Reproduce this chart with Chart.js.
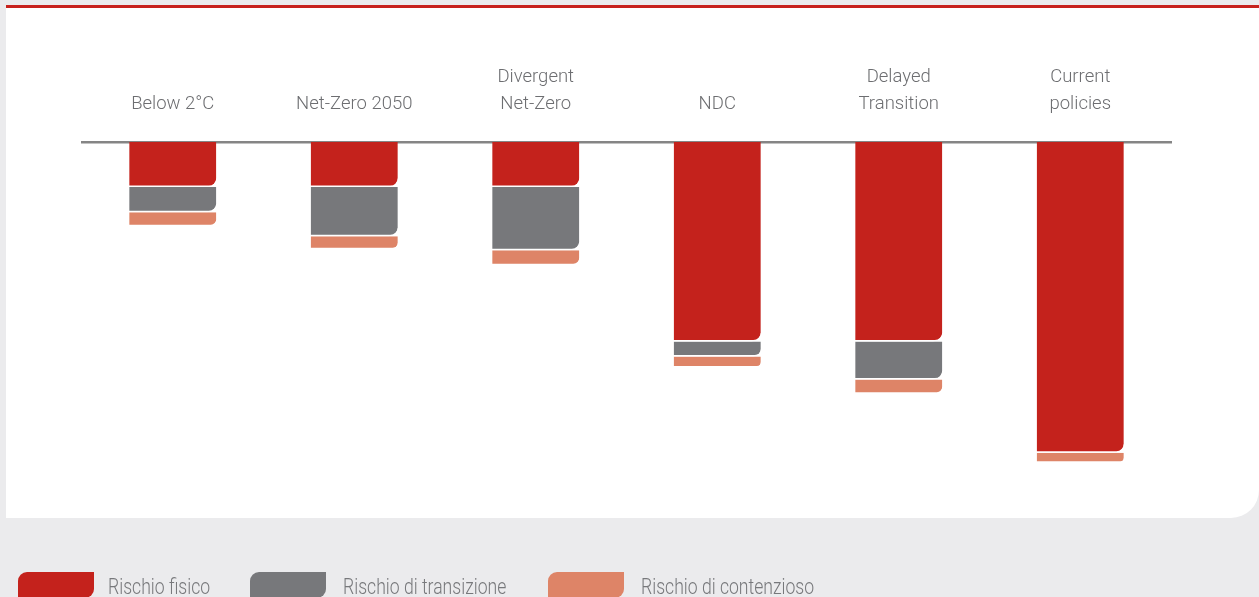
<!DOCTYPE html>
<html>
<head>
<meta charset="utf-8">
<script src="https://cdn.jsdelivr.net/npm/chart.js@4"></script>
<style>
  html, body { margin: 0; padding: 0; }
  body { width: 1259px; height: 597px; background: #ebebed; overflow: hidden; position: relative;
         font-family: Roboto, sans-serif; }
  #panel { position: absolute; left: 6px; top: 5px; width: 1253px; height: 510px; background: #fff;
           border-top: 3px solid #c7221d; border-bottom-right-radius: 28px; }
  #wrap { position: absolute; left: 0; top: 0; width: 1259px; height: 597px; }
  .swatch { position: absolute; top: 572px; width: 76px; height: 26px; border-radius: 9px 0 9px 0; }
  .legend-text { position: absolute; top: 574px; font-size: 22px; font-weight: 300; color: #77787b;
                 white-space: nowrap; line-height: 26px; transform: scaleX(0.8); transform-origin: left center; }
</style>
</head>
<body>
<div id="panel"></div>
<div id="wrap"><canvas id="riskChart"></canvas></div>
<div id="legend"></div>
<script>
const categories = ['Below 2°C', 'Net-Zero 2050', ['Divergent', 'Net-Zero'], 'NDC', ['Delayed', 'Transition'], ['Current', 'policies']];
const seriesNames = ['Rischio fisico', 'Rischio di transizione', 'Rischio di contenzioso'];
const rischioFisico = [45, 45, 45, 199, 199, 310];
const rischioTransizione = [25, 49, 63, 15, 38, 0];
const rischioContenzioso = [14, 13, 15, 11, 14, 10];
const colors = ['#c4221c', '#77787b', '#de8467'];

// legend in html, the swatch has two rounded corners
const legendPos = [[18, 108], [250, 343], [548, 641]];
seriesNames.forEach((name, i) => {
  const sw = document.createElement('div');
  sw.className = 'swatch';
  sw.style.left = legendPos[i][0] + 'px';
  sw.style.background = colors[i];
  const txt = document.createElement('div');
  txt.className = 'legend-text';
  txt.style.left = legendPos[i][1] + 'px';
  txt.textContent = name;
  document.getElementById('legend').appendChild(sw);
  document.getElementById('legend').appendChild(txt);
});

const seriesData = [rischioFisico, rischioTransizione, rischioContenzioso];
const datasets = seriesData.map((d, i) => ({
  label: seriesNames[i],
  data: d,
  backgroundColor: colors[i],
  borderColor: '#ffffff',
  borderWidth: { top: 0, left: 0, right: 0, bottom: 1.5 },
  borderSkipped: false,
  borderRadius: { topLeft: 0, topRight: 0, bottomLeft: 0, bottomRight: 9 },
  barPercentage: 0.48,
  categoryPercentage: 1
}));

const ctx = document.getElementById('riskChart').getContext('2d');
window.riskChart = new Chart(ctx, {
  type: 'bar',
  data: { labels: categories, datasets },
  options: {
    responsive: true,
    maintainAspectRatio: false,
    animation: false,
    layout: { padding: { left: 82, right: 88, top: 0, bottom: 54 } },
    plugins: { legend: { display: false }, tooltip: { enabled: false } },
    scales: {
      x: {
        position: 'top',
        stacked: true,
        grid: { display: false, drawTicks: false },
        border: { display: true, color: '#858585', width: 2.5 },
        ticks: {
          color: '#6d6e71',
          padding: 24,
          maxRotation: 0,
          autoSkip: false,
          font: { family: 'Roboto, sans-serif', size: 18.5, weight: 300, lineHeight: '27px' }
        },
        afterFit: scale => { scale.height = 142; }
      },
      y: {
        stacked: true,
        reverse: true,
        min: 0,
        max: 400,
        display: false
      }
    }
  }
});
</script>
</body>
</html>
